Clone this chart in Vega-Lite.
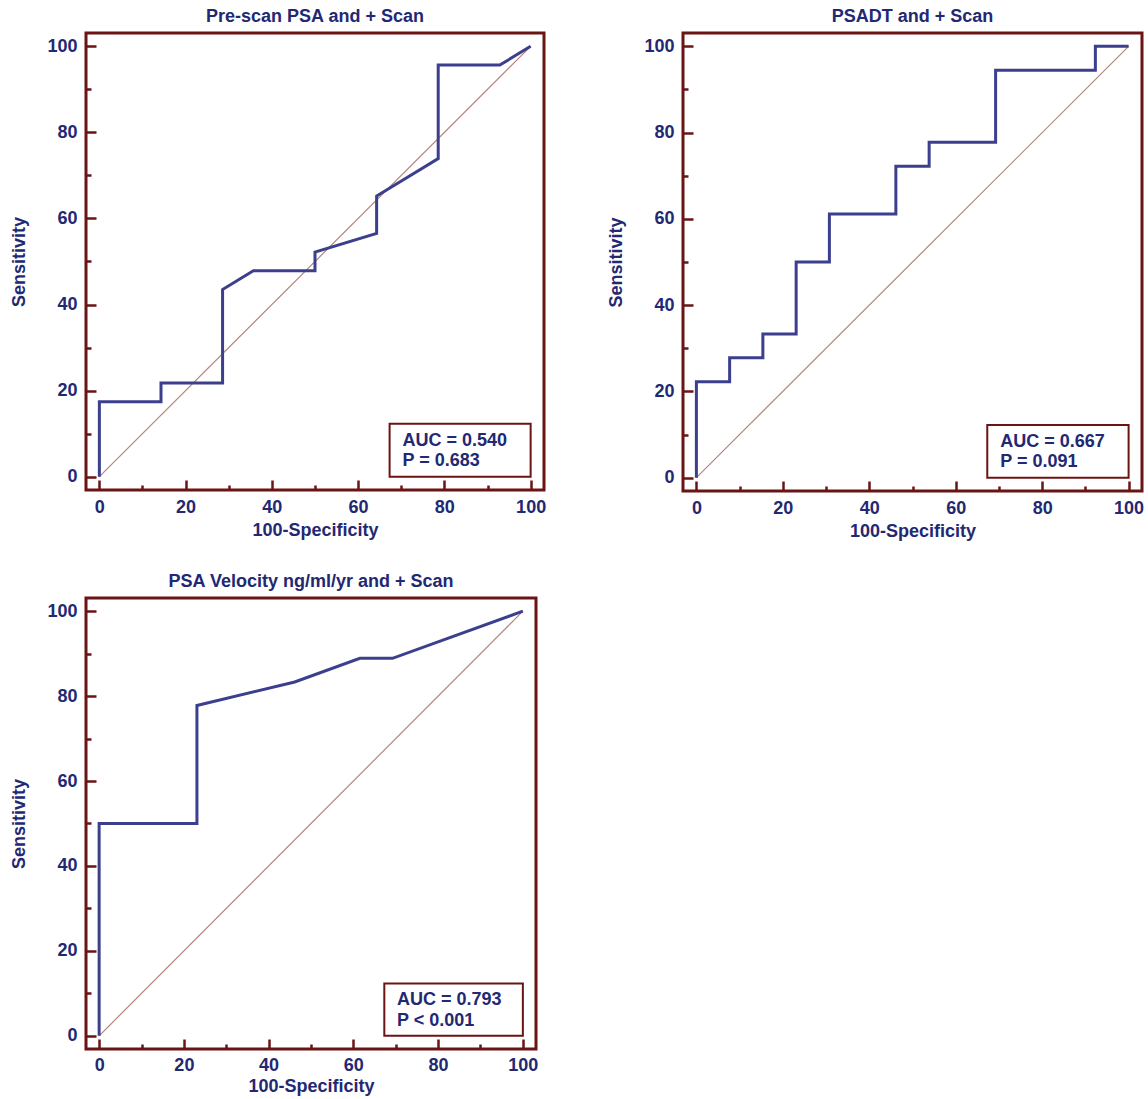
{
  "$schema": "https://vega.github.io/schema/vega-lite/v6.json",
  "padding": {"left": 9, "top": 6, "right": 2, "bottom": 0},
  "background": "white",
  "datasets": {
    "diag": [{"fpr": 0, "tpr": 0}, {"fpr": 100, "tpr": 100}],
    "psa": [
      {"i": 0, "fpr": 0, "tpr": 0}, {"i": 1, "fpr": 0, "tpr": 17.39}, {"i": 2, "fpr": 14.29, "tpr": 17.39},
      {"i": 3, "fpr": 14.29, "tpr": 21.74}, {"i": 4, "fpr": 28.57, "tpr": 21.74}, {"i": 5, "fpr": 28.57, "tpr": 43.48},
      {"i": 6, "fpr": 35.71, "tpr": 47.83}, {"i": 7, "fpr": 50, "tpr": 47.83}, {"i": 8, "fpr": 50, "tpr": 52.17},
      {"i": 9, "fpr": 64.29, "tpr": 56.52}, {"i": 10, "fpr": 64.29, "tpr": 65.22}, {"i": 11, "fpr": 78.57, "tpr": 73.91},
      {"i": 12, "fpr": 78.57, "tpr": 95.65}, {"i": 13, "fpr": 92.86, "tpr": 95.65}, {"i": 14, "fpr": 100, "tpr": 100}
    ],
    "psadt": [
      {"i": 0, "fpr": 0, "tpr": 0}, {"i": 1, "fpr": 0, "tpr": 22.22}, {"i": 2, "fpr": 7.69, "tpr": 22.22},
      {"i": 3, "fpr": 7.69, "tpr": 27.78}, {"i": 4, "fpr": 15.38, "tpr": 27.78}, {"i": 5, "fpr": 15.38, "tpr": 33.33},
      {"i": 6, "fpr": 23.08, "tpr": 33.33}, {"i": 7, "fpr": 23.08, "tpr": 50}, {"i": 8, "fpr": 30.77, "tpr": 50},
      {"i": 9, "fpr": 30.77, "tpr": 61.11}, {"i": 10, "fpr": 46.15, "tpr": 61.11}, {"i": 11, "fpr": 46.15, "tpr": 72.22},
      {"i": 12, "fpr": 53.85, "tpr": 72.22}, {"i": 13, "fpr": 53.85, "tpr": 77.78}, {"i": 14, "fpr": 69.23, "tpr": 77.78},
      {"i": 15, "fpr": 69.23, "tpr": 94.44}, {"i": 16, "fpr": 92.31, "tpr": 94.44}, {"i": 17, "fpr": 92.31, "tpr": 100},
      {"i": 18, "fpr": 100, "tpr": 100}
    ],
    "vel": [
      {"i": 0, "fpr": 0, "tpr": 0}, {"i": 1, "fpr": 0, "tpr": 50}, {"i": 2, "fpr": 23.08, "tpr": 50},
      {"i": 3, "fpr": 23.08, "tpr": 77.78}, {"i": 4, "fpr": 46.15, "tpr": 83.33}, {"i": 5, "fpr": 61.54, "tpr": 88.89},
      {"i": 6, "fpr": 69.23, "tpr": 88.89}, {"i": 7, "fpr": 100, "tpr": 100}
    ],
    "stats": [
      {"panel": "psa", "auc": "AUC = 0.540", "p": "P = 0.683"},
      {"panel": "psadt", "auc": "AUC = 0.667", "p": "P = 0.091"},
      {"panel": "vel", "auc": "AUC = 0.793", "p": "P < 0.001"}
    ]
  },
  "vconcat": [
    {
      "hconcat": [
        {
          "width": 458, "height": 457,
          "title": "Pre-scan PSA and + Scan",
          "layer": [
            {
              "data": {"name": "diag"},
              "mark": {"type": "line", "stroke": "#b4857c", "strokeWidth": 1.2},
              "encoding": {
                "x": {"field": "fpr", "type": "quantitative", "scale": {"domain": [-3.1, 103.1], "nice": false, "zero": false},
                  "axis": {"values": [0,5,10,15,20,25,30,35,40,45,50,55,60,65,70,75,80,85,90,95,100], "title": "100-Specificity", "labelPadding": 18, "titlePadding": 5,
                    "tickDash": {"condition": {"test": "datum.value % 20 === 0", "value": [12, 0]}, "value": [5, 30]}}},
                "y": {"field": "tpr", "type": "quantitative", "scale": {"domain": [-3.1, 103.1], "nice": false, "zero": false},
                  "axis": {"values": [0,5,10,15,20,25,30,35,40,45,50,55,60,65,70,75,80,85,90,95,100], "title": "Sensitivity", "labelPadding": 19, "titlePadding": 18,
                    "tickDash": {"condition": {"test": "datum.value % 20 === 0", "value": [12, 0]}, "value": [5, 30]}}}
              }
            },
            {
              "data": {"name": "psa"},
              "mark": {"type": "line", "stroke": "#3b3f8e", "strokeWidth": 3, "strokeJoin": "miter"},
              "encoding": {
                "x": {"field": "fpr", "type": "quantitative"},
                "y": {"field": "tpr", "type": "quantitative"},
                "order": {"field": "i", "type": "quantitative"}
              }
            },
            {
              "data": {"name": "stats"},
              "transform": [{"filter": "datum.panel === 'psa'"}],
              "mark": {"type": "rect", "fill": "white", "stroke": "#6b1414", "strokeWidth": 2},
              "encoding": {"x": {"datum": 67.3}, "x2": {"datum": 100}, "y": {"datum": 0}, "y2": {"datum": 12.3}}
            },
            {
              "data": {"name": "stats"},
              "transform": [{"filter": "datum.panel === 'psa'"}],
              "mark": {"type": "text", "align": "left", "baseline": "alphabetic", "font": "Liberation Sans", "fontSize": 18, "fontWeight": "bold", "color": "#232873"},
              "encoding": {"x": {"datum": 70.3}, "y": {"datum": 7.2}, "text": {"field": "auc"}}
            },
            {
              "data": {"name": "stats"},
              "transform": [{"filter": "datum.panel === 'psa'"}],
              "mark": {"type": "text", "align": "left", "baseline": "alphabetic", "font": "Liberation Sans", "fontSize": 18, "fontWeight": "bold", "color": "#232873"},
              "encoding": {"x": {"datum": 70.3}, "y": {"datum": 2.4}, "text": {"field": "p"}}
            }
          ]
        },
        {
          "width": 459, "height": 458,
          "title": "PSADT and + Scan",
          "layer": [
            {
              "data": {"name": "diag"},
              "mark": {"type": "line", "stroke": "#b4857c", "strokeWidth": 1.2},
              "encoding": {
                "x": {"field": "fpr", "type": "quantitative", "scale": {"domain": [-3.1, 103.1], "nice": false, "zero": false},
                  "axis": {"values": [0,5,10,15,20,25,30,35,40,45,50,55,60,65,70,75,80,85,90,95,100], "title": "100-Specificity", "labelPadding": 18, "titlePadding": 5,
                    "tickDash": {"condition": {"test": "datum.value % 20 === 0", "value": [12, 0]}, "value": [5, 30]}}},
                "y": {"field": "tpr", "type": "quantitative", "scale": {"domain": [-3.1, 103.1], "nice": false, "zero": false},
                  "axis": {"values": [0,5,10,15,20,25,30,35,40,45,50,55,60,65,70,75,80,85,90,95,100], "title": "Sensitivity", "labelPadding": 19, "titlePadding": 18,
                    "tickDash": {"condition": {"test": "datum.value % 20 === 0", "value": [12, 0]}, "value": [5, 30]}}}
              }
            },
            {
              "data": {"name": "psadt"},
              "mark": {"type": "line", "stroke": "#3b3f8e", "strokeWidth": 3, "strokeJoin": "miter"},
              "encoding": {
                "x": {"field": "fpr", "type": "quantitative"},
                "y": {"field": "tpr", "type": "quantitative"},
                "order": {"field": "i", "type": "quantitative"}
              }
            },
            {
              "data": {"name": "stats"},
              "transform": [{"filter": "datum.panel === 'psadt'"}],
              "mark": {"type": "rect", "fill": "white", "stroke": "#6b1414", "strokeWidth": 2},
              "encoding": {"x": {"datum": 67.3}, "x2": {"datum": 100}, "y": {"datum": 0}, "y2": {"datum": 12.2}}
            },
            {
              "data": {"name": "stats"},
              "transform": [{"filter": "datum.panel === 'psadt'"}],
              "mark": {"type": "text", "align": "left", "baseline": "alphabetic", "font": "Liberation Sans", "fontSize": 18, "fontWeight": "bold", "color": "#232873"},
              "encoding": {"x": {"datum": 70.3}, "y": {"datum": 7.2}, "text": {"field": "auc"}}
            },
            {
              "data": {"name": "stats"},
              "transform": [{"filter": "datum.panel === 'psadt'"}],
              "mark": {"type": "text", "align": "left", "baseline": "alphabetic", "font": "Liberation Sans", "fontSize": 18, "fontWeight": "bold", "color": "#232873"},
              "encoding": {"x": {"datum": 70.3}, "y": {"datum": 2.4}, "text": {"field": "p"}}
            }
          ]
        }
      ],
      "spacing": 58
    },
    {
      "width": 450, "height": 451,
      "title": "PSA Velocity ng/ml/yr and + Scan",
      "layer": [
        {
          "data": {"name": "diag"},
          "mark": {"type": "line", "stroke": "#b4857c", "strokeWidth": 1.2},
          "encoding": {
            "x": {"field": "fpr", "type": "quantitative", "scale": {"domain": [-3.1, 103.1], "nice": false, "zero": false},
              "axis": {"values": [0,5,10,15,20,25,30,35,40,45,50,55,60,65,70,75,80,85,90,95,100], "title": "100-Specificity", "labelPadding": 17, "titlePadding": 3,
                "tickDash": {"condition": {"test": "datum.value % 20 === 0", "value": [12, 0]}, "value": [5, 30]}}},
            "y": {"field": "tpr", "type": "quantitative", "scale": {"domain": [-3.1, 103.1], "nice": false, "zero": false},
              "axis": {"values": [0,5,10,15,20,25,30,35,40,45,50,55,60,65,70,75,80,85,90,95,100], "title": "Sensitivity", "labelPadding": 19, "titlePadding": 18,
                "tickDash": {"condition": {"test": "datum.value % 20 === 0", "value": [12, 0]}, "value": [5, 30]}}}
          }
        },
        {
          "data": {"name": "vel"},
          "mark": {"type": "line", "stroke": "#3b3f8e", "strokeWidth": 3, "strokeJoin": "miter"},
          "encoding": {
            "x": {"field": "fpr", "type": "quantitative"},
            "y": {"field": "tpr", "type": "quantitative"},
            "order": {"field": "i", "type": "quantitative"}
          }
        },
        {
          "data": {"name": "stats"},
          "transform": [{"filter": "datum.panel === 'vel'"}],
          "mark": {"type": "rect", "fill": "white", "stroke": "#6b1414", "strokeWidth": 2},
          "encoding": {"x": {"datum": 67.3}, "x2": {"datum": 100}, "y": {"datum": 0}, "y2": {"datum": 12.3}}
        },
        {
          "data": {"name": "stats"},
          "transform": [{"filter": "datum.panel === 'vel'"}],
          "mark": {"type": "text", "align": "left", "baseline": "alphabetic", "font": "Liberation Sans", "fontSize": 18, "fontWeight": "bold", "color": "#232873"},
          "encoding": {"x": {"datum": 70.3}, "y": {"datum": 7.2}, "text": {"field": "auc"}}
        },
        {
          "data": {"name": "stats"},
          "transform": [{"filter": "datum.panel === 'vel'"}],
          "mark": {"type": "text", "align": "left", "baseline": "alphabetic", "font": "Liberation Sans", "fontSize": 18, "fontWeight": "bold", "color": "#232873"},
          "encoding": {"x": {"datum": 70.3}, "y": {"datum": 2.4}, "text": {"field": "p"}}
        }
      ]
    }
  ],
  "spacing": 29,
  "config": {
    "view": {"stroke": "#6b1414", "strokeWidth": 3},
    "font": "Liberation Sans",
    "title": {"font": "Liberation Sans", "fontSize": 18, "fontWeight": "bold", "color": "#232873", "anchor": "middle", "frame": "group", "offset": 7},
    "axis": {
      "domain": false, "grid": false, "tickColor": "#6b1414", "tickWidth": 2.5, "tickSize": -10,
      "labelFont": "Liberation Sans", "labelFontSize": 18, "labelFontWeight": "bold", "labelColor": "#232873",
      "titleFont": "Liberation Sans", "titleFontSize": 18, "titleFontWeight": "bold", "titleColor": "#232873",
      "labelOverlap": false, "labelFlush": false,
      "labelExpr": "datum.value % 20 === 0 ? datum.label : ''"
    }
  }
}
